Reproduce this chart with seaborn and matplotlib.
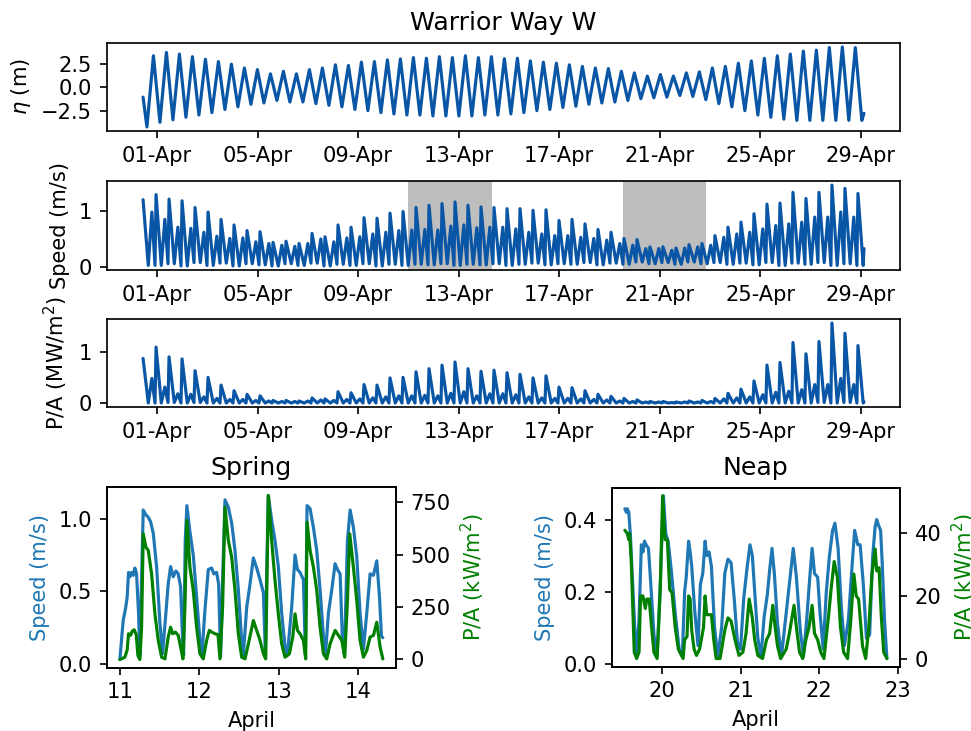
import matplotlib
matplotlib.use("Agg")
import numpy as np
import pandas as pd
import matplotlib.pyplot as plt
import matplotlib.dates as mdates
import seaborn as sns

# ---------------- data ----------------
title = "Warrior Way W"
series_start = "2019-03-31 10:35"
series_end = "2019-04-29 03:15"
first_high_water = "2019-03-31 20:30"
first_major_flow = "2019-03-31 23:00"
tidal_period = "745min"

eta_start, eta_end = -1.03, -2.75
eta_high = [3.36, 3.71, 3.54, 3.26, 2.99, 2.74, 2.47, 2.06, 1.89, 1.44,
            1.71, 1.44, 1.89, 2.06, 2.40, 2.33, 2.68, 2.74, 2.92, 3.02,
            3.16, 3.10, 3.26, 3.16, 3.36, 3.16, 3.26, 3.05, 3.10,
            2.81, 2.68, 2.57, 2.40, 2.23, 2.06, 2.00, 1.71, 1.54, 1.20,
            1.37, 1.20, 1.54, 1.65, 2.06, 2.23, 2.57, 2.81, 3.09, 3.36,
            3.54, 3.85, 3.95, 4.23, 4.29, 4.23]
eta_low = [-4.20,
           -3.70, -3.44, -3.17, -2.93, -2.68, -2.34, -2.06, -1.79, -1.65, -1.38,
           -1.55, -1.55, -1.72, -1.90, -2.06, -2.34, -2.47, -2.68, -2.82, -2.93,
           -2.93, -3.03, -3.03, -3.03, -3.03, -2.93, -2.93, -2.82, -2.68,
           -2.47, -2.34, -2.13, -2.00, -1.79, -1.65, -1.55, -1.38, -1.20, -1.10,
           -1.03, -0.86, -0.96, -1.30, -1.72, -2.06, -2.47, -2.93, -3.17, -3.37,
           -3.50, -3.50, -3.50, -3.50, -3.50, -3.50]

speed_start, speed_end = 1.20, 0.33
speed_major = [1.29, 1.21, 1.18, 1.06, 0.98, 0.85, 0.75, 0.65, 0.63, 0.44,
               0.46, 0.42, 0.60, 0.54, 0.75, 0.71, 0.88, 0.87, 0.96, 0.99,
               1.06, 1.10, 1.13, 1.16, 1.10, 1.07, 1.06, 1.04, 1.04, 1.01,
               1.02, 0.83, 0.85, 0.77, 0.67, 0.62, 0.51, 0.49, 0.36, 0.36,
               0.34, 0.40, 0.42, 0.56, 0.71, 0.80, 0.95, 1.12, 1.14, 1.33,
               1.22, 1.33, 1.46, 1.40, 1.31]
speed_minor = [0.98, 0.85, 0.71, 0.69, 0.62, 0.55, 0.51, 0.52, 0.45, 0.42,
               0.39, 0.37, 0.42, 0.50, 0.45, 0.52, 0.54, 0.59, 0.62, 0.65,
               0.66, 0.67, 0.66, 0.73, 0.75, 0.70, 0.71, 0.71, 0.68, 0.62,
               0.59, 0.56, 0.56, 0.53, 0.51, 0.48, 0.42, 0.39, 0.33, 0.33,
               0.30, 0.34, 0.36, 0.39, 0.53, 0.59, 0.62, 0.68, 0.74, 0.77,
               0.80, 0.89, 0.89, 0.98, 0.89]
speed_low = [0.03, 0.06, 0.02, 0.08, 0.03, 0.07, 0.02, 0.06, 0.04, 0.02,
             0.06, 0.03, 0.07, 0.02, 0.05, 0.03, 0.06, 0.02, 0.05, 0.03,
             0.05, 0.04, 0.06, 0.03, 0.05, 0.04, 0.06, 0.03, 0.05, 0.07,
             0.04, 0.06, 0.05, 0.08, 0.04, 0.07, 0.05, 0.09, 0.06, 0.08,
             0.05, 0.09, 0.06, 0.08, 0.05, 0.07, 0.04, 0.08, 0.03, 0.07,
             0.05, 0.08, 0.03, 0.06, 0.03]

power_start, power_end = 0.87, 0.02
power_major = [1.09, 0.90, 0.86, 0.63, 0.50, 0.35, 0.24, 0.17, 0.14, 0.05,
               0.05, 0.04, 0.10, 0.08, 0.22, 0.20, 0.36, 0.35, 0.49, 0.50,
               0.61, 0.67, 0.74, 0.80, 0.67, 0.62, 0.64, 0.59, 0.56, 0.49,
               0.53, 0.31, 0.30, 0.24, 0.17, 0.13, 0.09, 0.06, 0.03, 0.03,
               0.02, 0.04, 0.05, 0.09, 0.19, 0.27, 0.43, 0.74, 0.79, 1.18,
               0.96, 1.20, 1.56, 1.36, 1.12]
power_minor = [0.48, 0.31, 0.18, 0.17, 0.12, 0.09, 0.07, 0.07, 0.05, 0.04,
               0.03, 0.03, 0.04, 0.06, 0.05, 0.07, 0.08, 0.10, 0.12, 0.14,
               0.14, 0.15, 0.14, 0.19, 0.22, 0.14, 0.18, 0.18, 0.16, 0.12,
               0.10, 0.09, 0.09, 0.08, 0.07, 0.06, 0.04, 0.03, 0.02, 0.02,
               0.01, 0.02, 0.02, 0.03, 0.08, 0.10, 0.12, 0.16, 0.21, 0.23,
               0.26, 0.36, 0.36, 0.48, 0.36]
power_low = [0.00, 0.01, 0.00, 0.01, 0.00, 0.00, 0.00, 0.00, 0.00, 0.00,
             0.00, 0.00, 0.00, 0.00, 0.00, 0.00, 0.00, 0.00, 0.00, 0.00,
             0.00, 0.00, 0.00, 0.00, 0.00, 0.00, 0.00, 0.00, 0.00, 0.00,
             0.00, 0.00, 0.00, 0.00, 0.00, 0.00, 0.00, 0.00, 0.00, 0.00,
             0.00, 0.00, 0.00, 0.00, 0.00, 0.00, 0.00, 0.00, 0.00, 0.00,
             0.00, 0.01, 0.00, 0.01, 0.00]

spring_window = ("2019-04-11 00:00", "2019-04-14 08:00")
neap_window = ("2019-04-19 12:45", "2019-04-22 20:45")

spring_speed_day = [11.000, 11.042, 11.071, 11.092, 11.109, 11.126, 11.147, 11.168, 11.189, 11.210,
                    11.235, 11.252, 11.273, 11.294, 11.323, 11.357, 11.386, 11.420, 11.462, 11.504,
                    11.537, 11.579, 11.608, 11.638, 11.671, 11.705, 11.734, 11.764, 11.789, 11.802,
                    11.822, 11.843, 11.881, 11.923, 11.965, 12.007, 12.032, 12.070, 12.112, 12.154,
                    12.183, 12.217, 12.242, 12.267, 12.292, 12.322, 12.364, 12.406, 12.448, 12.490,
                    12.532, 12.553, 12.595, 12.637, 12.679, 12.721, 12.763, 12.805, 12.830, 12.846,
                    12.867, 12.909, 12.951, 12.993, 13.035, 13.077, 13.107, 13.161, 13.203, 13.233,
                    13.266, 13.308, 13.333, 13.354, 13.392, 13.434, 13.476, 13.518, 13.560, 13.585,
                    13.623, 13.665, 13.707, 13.736, 13.770, 13.799, 13.824, 13.862, 13.896, 13.937,
                    13.979, 14.021, 14.063, 14.105, 14.147, 14.189, 14.231, 14.265, 14.290, 14.307]
spring_speed = [0.03, 0.30, 0.38, 0.46, 0.63, 0.60, 0.63, 0.61, 0.66, 0.62,
                0.35, 0.06, 0.58, 1.06, 1.03, 1.01, 0.98, 0.90, 0.67, 0.28,
                0.07, 0.35, 0.55, 0.67, 0.60, 0.64, 0.62, 0.53, 0.16, 0.06,
                0.85, 1.09, 0.91, 0.75, 0.46, 0.16, 0.06, 0.37, 0.65, 0.66,
                0.62, 0.63, 0.55, 0.05, 0.58, 1.13, 1.08, 0.97, 0.78, 0.51,
                0.16, 0.06, 0.39, 0.55, 0.73, 0.66, 0.58, 0.49, 0.07, 0.62,
                1.16, 0.99, 0.85, 0.67, 0.35, 0.12, 0.06, 0.39, 0.75, 0.65,
                0.63, 0.58, 0.07, 1.09, 1.07, 0.94, 0.78, 0.51, 0.19, 0.06,
                0.35, 0.51, 0.69, 0.65, 0.62, 0.16, 0.06, 0.85, 1.06, 0.94,
                0.74, 0.35, 0.10, 0.35, 0.62, 0.61, 0.71, 0.46, 0.19, 0.18]
spring_power_day = [11.000, 11.063, 11.092, 11.109, 11.134, 11.155, 11.180, 11.206, 11.227, 11.252,
                    11.273, 11.294, 11.327, 11.357, 11.399, 11.441, 11.483, 11.525, 11.567, 11.608,
                    11.638, 11.663, 11.697, 11.734, 11.764, 11.793, 11.818, 11.843, 11.881, 11.923,
                    11.965, 12.007, 12.049, 12.091, 12.125, 12.154, 12.196, 12.234, 12.259, 12.292,
                    12.322, 12.364, 12.406, 12.448, 12.490, 12.532, 12.574, 12.616, 12.679, 12.721,
                    12.763, 12.805, 12.834, 12.867, 12.909, 12.951, 12.993, 13.035, 13.077, 13.132,
                    13.174, 13.203, 13.233, 13.266, 13.308, 13.337, 13.354, 13.392, 13.434, 13.476,
                    13.518, 13.560, 13.602, 13.644, 13.707, 13.749, 13.791, 13.828, 13.862, 13.891,
                    13.937, 13.979, 14.021, 14.063, 14.105, 14.147, 14.189, 14.231, 14.273, 14.307]
spring_power = [0, 11, 46, 123, 115, 135, 142, 119, 19, 0,
                154, 600, 537, 521, 409, 218, 91, 11, 3, 107,
                154, 123, 131, 115, 59, 3, 250, 664, 441, 330,
                154, 27, 3, 91, 139, 131, 123, 119, 3, 250,
                728, 568, 489, 330, 123, 11, 3, 75, 186, 139,
                91, 27, 3, 783, 568, 377, 218, 75, 11, 27,
                107, 218, 139, 123, 91, 3, 656, 521, 441, 330,
                154, 27, 3, 75, 139, 115, 91, 11, 282, 600,
                441, 282, 91, 11, 43, 107, 115, 178, 59, 3]

neap_speed_day = [19.53, 19.55, 19.56, 19.58, 19.60, 19.63, 19.66, 19.68, 19.71, 19.74,
                  19.76, 19.78, 19.80, 19.83, 19.86, 19.90, 19.94, 19.98, 20.02, 20.05,
                  20.08, 20.12, 20.17, 20.22, 20.26, 20.29, 20.31, 20.34, 20.36, 20.38,
                  20.42, 20.46, 20.49, 20.52, 20.55, 20.57, 20.60, 20.63, 20.67, 20.71,
                  20.76, 20.80, 20.84, 20.88, 20.92, 20.96, 21.00, 21.04, 21.08, 21.12,
                  21.15, 21.18, 21.22, 21.26, 21.30, 21.34, 21.37, 21.40, 21.43, 21.47,
                  21.52, 21.57, 21.62, 21.67, 21.71, 21.76, 21.80, 21.84, 21.88, 21.91,
                  21.94, 21.98, 22.01, 22.05, 22.09, 22.13, 22.17, 22.20, 22.24, 22.28,
                  22.32, 22.37, 22.42, 22.45, 22.49, 22.52, 22.56, 22.60, 22.64, 22.68,
                  22.71, 22.73, 22.76, 22.78, 22.80, 22.83, 22.86]
neap_speed = [0.43, 0.42, 0.43, 0.42, 0.36, 0.22, 0.08, 0.03, 0.12, 0.33,
              0.31, 0.34, 0.33, 0.32, 0.22, 0.08, 0.02, 0.22, 0.466, 0.36,
              0.34, 0.26, 0.14, 0.04, 0.02, 0.20, 0.24, 0.34, 0.31, 0.27,
              0.14, 0.05, 0.22, 0.25, 0.34, 0.30, 0.31, 0.27, 0.10, 0.02,
              0.10, 0.25, 0.29, 0.28, 0.18, 0.06, 0.04, 0.18, 0.26, 0.33,
              0.30, 0.20, 0.07, 0.02, 0.13, 0.19, 0.26, 0.32, 0.25, 0.11,
              0.02, 0.12, 0.22, 0.32, 0.24, 0.09, 0.02, 0.12, 0.24, 0.32,
              0.25, 0.24, 0.14, 0.04, 0.20, 0.30, 0.37, 0.39, 0.32, 0.16,
              0.05, 0.12, 0.28, 0.37, 0.33, 0.33, 0.22, 0.07, 0.08, 0.30,
              0.38, 0.40, 0.38, 0.37, 0.28, 0.12, 0.014]
neap_power_day = [19.53, 19.56, 19.58, 19.59, 19.61, 19.63, 19.65, 19.68, 19.71, 19.73,
                  19.76, 19.79, 19.81, 19.84, 19.87, 19.90, 19.94, 19.98, 20.01, 20.04,
                  20.07, 20.10, 20.13, 20.17, 20.21, 20.27, 20.29, 20.32, 20.34, 20.36,
                  20.38, 20.41, 20.44, 20.48, 20.53, 20.55, 20.57, 20.59, 20.63, 20.66,
                  20.69, 20.74, 20.80, 20.84, 20.88, 20.93, 20.98, 21.03, 21.07, 21.11,
                  21.15, 21.18, 21.22, 21.28, 21.33, 21.37, 21.41, 21.44, 21.47, 21.51,
                  21.58, 21.62, 21.68, 21.71, 21.75, 21.79, 21.83, 21.87, 21.91, 21.94,
                  21.98, 22.02, 22.06, 22.12, 22.15, 22.19, 22.23, 22.27, 22.31, 22.36,
                  22.40, 22.44, 22.47, 22.50, 22.55, 22.59, 22.63, 22.67, 22.71, 22.73,
                  22.76, 22.79, 22.82, 22.86]
neap_power = [41, 40, 38, 40, 32, 17, 2, 0, 2, 20,
              20, 16, 19, 19, 10, 2, 0, 22, 52, 38,
              38, 22, 21, 10, 3, 0, 6, 7, 20, 19,
              9, 3, 1, 3, 10, 20, 14, 14, 14, 6,
              0, 0, 9, 13, 12, 6, 1, 2, 8, 19,
              13, 6, 1, 0, 6, 8, 17, 10, 4, 0,
              3, 8, 17, 10, 2, 0, 6, 10, 17, 8,
              6, 2, 0, 14, 22, 31, 26, 10, 2, 0,
              12, 27, 20, 19, 4, 0, 10, 27, 35, 28,
              29, 13, 2, 0]

line_color = "#0a56a6"
speed_color = "tab:blue"
power_color = "green"
span_color = "#bebebe"

# ---------------- assemble time series ----------------
start = pd.Timestamp(series_start)
end = pd.Timestamp(series_end)
H = pd.Timedelta("1h")

hw = pd.date_range(first_high_water, periods=len(eta_high), freq=tidal_period)
half = pd.Timedelta(tidal_period) / 2
eta_t = [start, hw[0] - half]
eta_v = [eta_start, eta_low[0]]
for j, t in enumerate(hw):
    eta_t += [t, t + half]
    eta_v += [eta_high[j], eta_low[j + 1]]
eta_t.append(end)
eta_v.append(eta_end)
df_eta = pd.DataFrame({"time": eta_t, "eta": eta_v})

mf = pd.date_range(first_major_flow, periods=len(speed_major), freq=tidal_period)
flow_t = [start, start + 5 * H]
spd_v = [speed_start, speed_low[0]]
pow_v = [power_start, power_low[0]]
for k, t in enumerate(mf):
    flow_t += [t - 4 * H, t - 1 * H, t, t + 5 * H]
    spd_v += [speed_minor[k], speed_low[k], speed_major[k], speed_low[k]]
    pow_v += [power_minor[k], power_low[k], power_major[k], power_low[k]]
flow_t.append(end)
spd_v.append(speed_end)
pow_v.append(power_end)
df_flow = pd.DataFrame({"time": flow_t, "speed": spd_v, "power": pow_v})

df_spring_s = pd.DataFrame({"day": spring_speed_day, "speed": spring_speed})
df_spring_p = pd.DataFrame({"day": spring_power_day, "power": spring_power})
df_neap_s = pd.DataFrame({"day": neap_speed_day, "speed": neap_speed})
df_neap_p = pd.DataFrame({"day": neap_power_day, "power": neap_power})

# ---------------- figure ----------------
sns.set_style("ticks", rc={"axes.edgecolor": "black", "text.color": "black",
                           "axes.labelcolor": "black", "xtick.color": "black",
                           "ytick.color": "black"})
plt.rcParams["font.family"] = ["DejaVu Sans"]
plt.rcParams["font.size"] = 10
plt.rcParams["axes.linewidth"] = 0.8

DPI = 151.72
fig = plt.figure(figsize=(971 / DPI, 731 / DPI), dpi=DPI)
ax1 = fig.add_axes([0.1102, 0.8208, 0.8167, 0.1204])
ax2 = fig.add_axes([0.1102, 0.6306, 0.8167, 0.1218])
ax3 = fig.add_axes([0.1102, 0.4432, 0.8167, 0.1204])
ax4 = fig.add_axes([0.1099, 0.0866, 0.2979, 0.2468])
ax5 = fig.add_axes([0.6300, 0.0880, 0.2969, 0.2449])

sns.lineplot(data=df_eta, x="time", y="eta", ax=ax1, color=line_color, lw=1.5)
for w in (spring_window, neap_window):
    ax2.axvspan(pd.Timestamp(w[0]), pd.Timestamp(w[1]), color=span_color, lw=0, zorder=0)
sns.lineplot(data=df_flow, x="time", y="speed", ax=ax2, color=line_color, lw=1.5)
sns.lineplot(data=df_flow, x="time", y="power", ax=ax3, color=line_color, lw=1.5)

ax1.set_title(title, fontsize=12)
ax1.set_ylabel(r"$\eta$ (m)")
ax1.set_yticks([-2.5, 0.0, 2.5])
ax2.set_ylabel("Speed (m/s)")
ax2.set_yticks([0, 1])
ax3.set_ylabel("P/A (MW/m$^2$)")
ax3.set_yticks([0, 1])
for ax in (ax1, ax2, ax3):
    ax.set_xlabel("")
    ax.xaxis.set_major_locator(mdates.DayLocator(bymonthday=[1, 5, 9, 13, 17, 21, 25, 29]))
    ax.xaxis.set_major_formatter(mdates.DateFormatter("%d-%b"))

# Spring
sns.lineplot(data=df_spring_s, x="day", y="speed", ax=ax4, color=speed_color, lw=1.5)
ax4b = ax4.twinx()
sns.lineplot(data=df_spring_p, x="day", y="power", ax=ax4b, color=power_color, lw=1.5)
ax4.set_title("Spring", fontsize=12)
ax4.set_xlabel("April")
ax4.set_ylabel("Speed (m/s)", color=speed_color)
ax4b.set_ylabel("P/A (kW/m$^2$)", color=power_color)
ax4.set_xticks([11, 12, 13, 14])
ax4.set_yticks([0.0, 0.5, 1.0])
ax4b.set_yticks([0, 250, 500, 750])

# Neap
sns.lineplot(data=df_neap_s, x="day", y="speed", ax=ax5, color=speed_color, lw=1.5)
ax5b = ax5.twinx()
sns.lineplot(data=df_neap_p, x="day", y="power", ax=ax5b, color=power_color, lw=1.5)
ax5.set_title("Neap", fontsize=12)
ax5.set_xlabel("April")
ax5.set_ylabel("Speed (m/s)", color=speed_color)
ax5b.set_ylabel("P/A (kW/m$^2$)", color=power_color)
ax5.set_xticks([20, 21, 22, 23])
ax5.set_yticks([0.0, 0.2, 0.4])
ax5b.set_yticks([0, 20, 40])

fig.savefig("out.png", dpi=DPI)
